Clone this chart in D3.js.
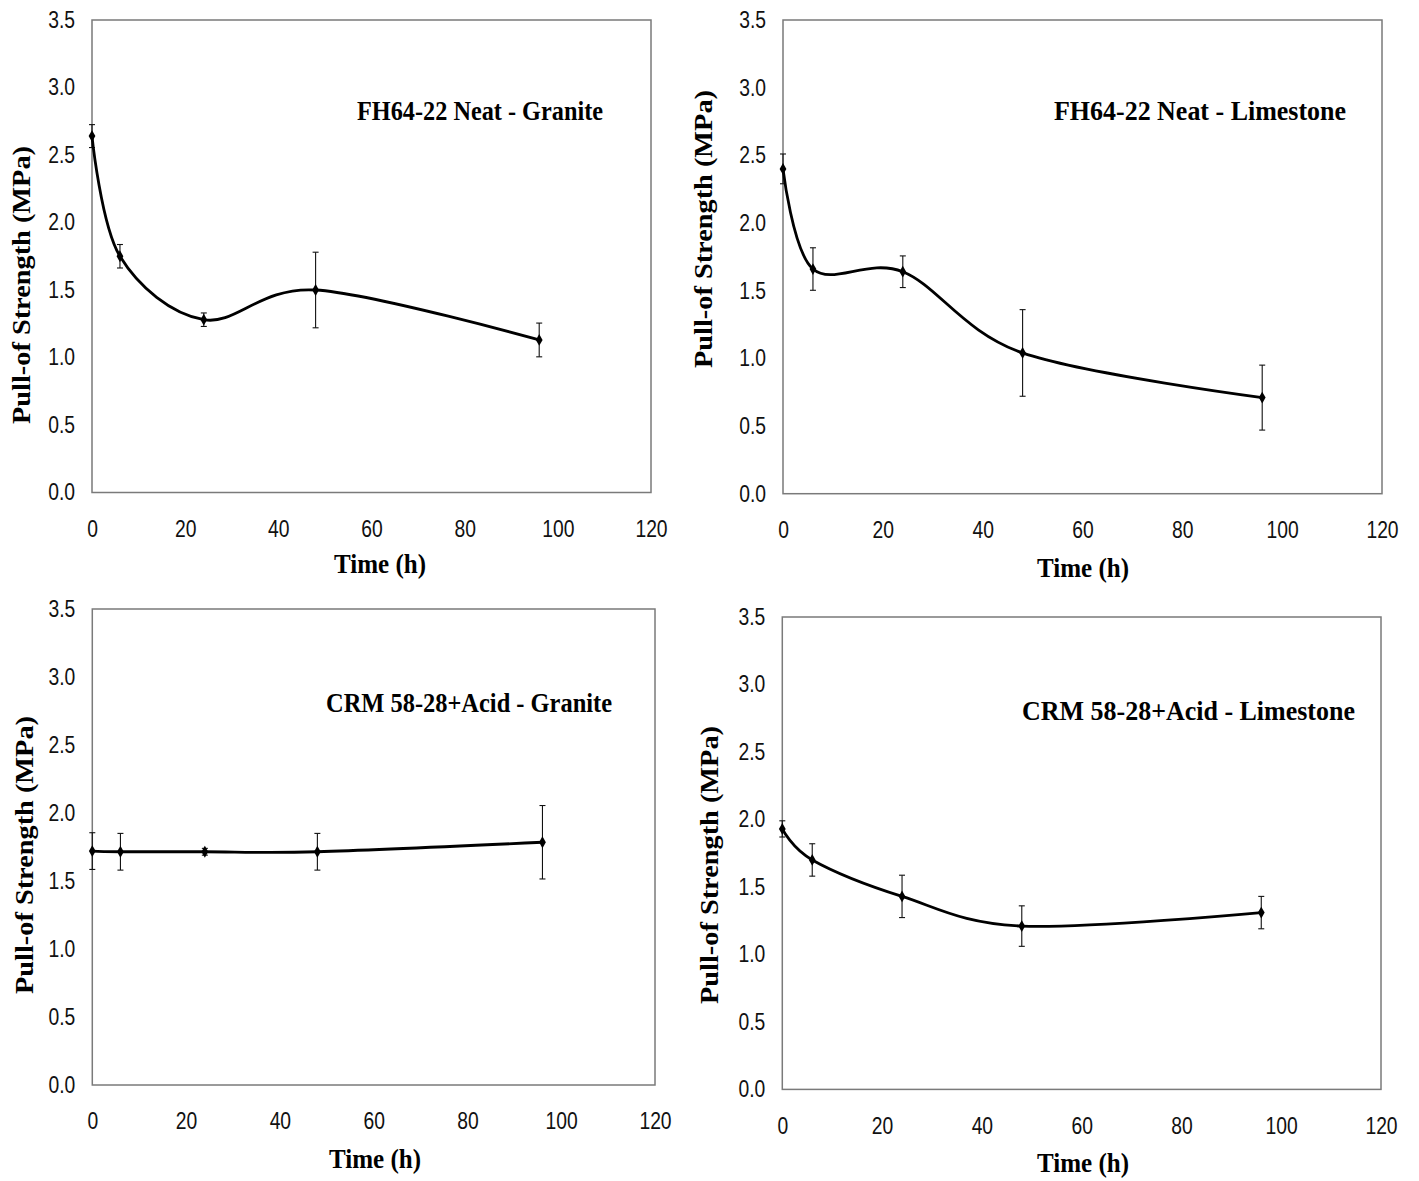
<!DOCTYPE html>
<html>
<head>
<meta charset="utf-8">
<script src="https://cdn.jsdelivr.net/npm/d3@7"></script>
<style>
  html, body { margin: 0; padding: 0; background: #fff; }
  svg { display: block; }
</style>
</head>
<body>
<svg id="chart" width="1419" height="1181"></svg>
<script>
// ---------- data ----------
const times = [0, 6, 24, 48, 96];
const xTicks = [0, 20, 40, 60, 80, 100, 120];
const yTicks = [0, 0.5, 1.0, 1.5, 2.0, 2.5, 3.0, 3.5];

const titles = [
  "FH64-22 Neat - Granite",
  "FH64-22 Neat - Limestone",
  "CRM 58-28+Acid - Granite",
  "CRM 58-28+Acid - Limestone"
];
const xTitle = "Time (h)";
const yTitle = "Pull-of Strength (MPa)";

const fhGraniteMean = [2.64, 1.75, 1.28, 1.50, 1.13];
const fhGraniteErr  = [0.085, 0.087, 0.05, 0.28, 0.125];

const fhLimestoneMean = [2.40, 1.66, 1.64, 1.04, 0.71];
const fhLimestoneErr  = [0.11, 0.157, 0.117, 0.32, 0.24];

const crmGraniteMean = [1.72, 1.715, 1.715, 1.715, 1.785];
const crmGraniteErr  = [0.135, 0.135, 0.025, 0.135, 0.27];

const crmLimestoneMean = [1.93, 1.70, 1.43, 1.21, 1.31];
const crmLimestoneErr  = [0.06, 0.12, 0.157, 0.15, 0.12];

const seriesMeans = [fhGraniteMean, fhLimestoneMean, crmGraniteMean, crmLimestoneMean];
const seriesErrs  = [fhGraniteErr, fhLimestoneErr, crmGraniteErr, crmLimestoneErr];

// ---------- layout ----------
const panels = [
  { x0: 92,    x1: 651,  y0: 20,  y1: 492.5,
    title: { x: 357, y: 120, w: 246 }, xt: { x: 380, y: 573 }, yt: { x: 30, y: 285 } },
  { x0: 783,   x1: 1382, y0: 20,  y1: 493.7,
    title: { x: 1054, y: 120, w: 292 }, xt: { x: 1083, y: 577 }, yt: { x: 712, y: 229 } },
  { x0: 92.3,  x1: 655,  y0: 609, y1: 1085,
    title: { x: 326, y: 711.5, w: 286 }, xt: { x: 375, y: 1168 }, yt: { x: 32.5, y: 855 } },
  { x0: 782.3, x1: 1381, y0: 617, y1: 1089.4,
    title: { x: 1022, y: 720, w: 333 }, xt: { x: 1083, y: 1172 }, yt: { x: 718, y: 865 } }
];

const svg = d3.select("#chart");
const serif = "'Liberation Serif', 'Times New Roman', serif";
const sans = "'Liberation Sans', Arial, sans-serif";
const tickScaleX = 0.84;
const yPad = 17, xPad = 28;

panels.forEach((p, i) => {
  const x = d3.scaleLinear().domain([0, 120]).range([p.x0, p.x1]);
  const y = d3.scaleLinear().domain([0, 3.5]).range([p.y1, p.y0]);
  const g = svg.append("g");

  // plot frame
  g.append("rect")
    .attr("x", p.x0).attr("y", p.y0)
    .attr("width", p.x1 - p.x0).attr("height", p.y1 - p.y0)
    .attr("fill", "none").attr("stroke", "#7a7a7a").attr("stroke-width", 1.5);

  // axes (labels only)
  const yAxis = d3.axisLeft(y).tickValues(yTicks).tickSize(0).tickPadding(yPad)
    .tickFormat(d3.format(".1f"));
  const xAxis = d3.axisBottom(x).tickValues(xTicks).tickSize(0).tickPadding(xPad)
    .tickFormat(d3.format("d"));

  const ya = g.append("g").attr("transform", `translate(${p.x0},0)`).call(yAxis);
  const xa = g.append("g").attr("transform", `translate(0,${p.y1})`).call(xAxis);
  [ya, xa].forEach(a => {
    a.select(".domain").remove();
    a.selectAll("text").attr("font-family", sans).attr("font-size", 23).attr("fill", "#111")
      .attr("transform", `scale(${tickScaleX},1)`);
  });
  ya.selectAll("text").attr("x", -yPad / tickScaleX);

  const data = times.map((t, k) => ({ t, v: seriesMeans[i][k], e: seriesErrs[i][k] }));

  // error bars
  const eb = g.append("g").attr("stroke", "#111").attr("stroke-width", 1.1);
  data.forEach(d => {
    const cx = x(d.t), yt = y(d.v + d.e), yb = y(d.v - d.e);
    eb.append("line").attr("x1", cx).attr("x2", cx).attr("y1", yt).attr("y2", yb);
    eb.append("line").attr("x1", cx - 3).attr("x2", cx + 3).attr("y1", yt).attr("y2", yt);
    eb.append("line").attr("x1", cx - 3).attr("x2", cx + 3).attr("y1", yb).attr("y2", yb);
  });

  // smoothed line
  const line = d3.line().x(d => x(d.t)).y(d => y(d.v)).curve(d3.curveCardinal.tension(0));
  g.append("path").datum(data).attr("d", line)
    .attr("fill", "none").attr("stroke", "#000").attr("stroke-width", 2.8);

  // markers
  g.selectAll(".mk").data(data).enter().append("path")
    .attr("d", d3.symbol().type(d3.symbolDiamond).size(40))
    .attr("transform", d => `translate(${x(d.t)},${y(d.v)})`)
    .attr("fill", "#000");

  // chart title
  g.append("text")
    .attr("x", p.title.x).attr("y", p.title.y)
    .attr("font-family", serif).attr("font-weight", "bold").attr("font-size", 27)
    .attr("textLength", p.title.w).attr("lengthAdjust", "spacingAndGlyphs")
    .attr("fill", "#000")
    .text(titles[i]);

  // x-axis title
  g.append("text")
    .attr("x", p.xt.x - 46).attr("y", p.xt.y)
    .attr("font-family", serif).attr("font-weight", "bold").attr("font-size", 28)
    .attr("textLength", 92).attr("lengthAdjust", "spacingAndGlyphs")
    .attr("fill", "#000")
    .text(xTitle);

  // y-axis title
  g.append("text")
    .attr("transform", `translate(${p.yt.x},${p.yt.y}) scale(0.9,1) rotate(-90)`)
    .attr("x", -139).attr("y", 0)
    .attr("font-family", serif).attr("font-weight", "bold").attr("font-size", 28)
    .attr("textLength", 278).attr("lengthAdjust", "spacingAndGlyphs")
    .attr("fill", "#000")
    .text(yTitle);
});
</script>
</body>
</html>
